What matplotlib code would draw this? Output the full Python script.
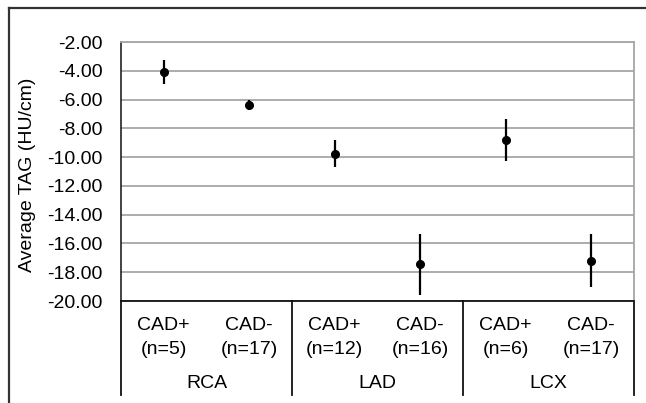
import matplotlib
matplotlib.use("Agg")
import matplotlib.pyplot as plt
from matplotlib.lines import Line2D
from matplotlib.transforms import blended_transform_factory

# Data
groups = ["RCA", "LAD", "LCX"]
subcats = ["CAD+\n(n=5)", "CAD-\n(n=17)", "CAD+\n(n=12)", "CAD-\n(n=16)", "CAD+\n(n=6)", "CAD-\n(n=17)"]
means = [-4.1, -6.4, -9.75, -17.45, -8.8, -17.2]
errors = [0.85, 0.35, 0.95, 2.1, 1.45, 1.85]
yticks = [-2, -4, -6, -8, -10, -12, -14, -16, -18, -20]

plt.rcParams['font.family'] = ['Liberation Sans', 'DejaVu Sans']
FS = 14

W, H = 646, 403
fig = plt.figure(figsize=(W / 100, H / 100), dpi=100)
L, R, T, B = 121, 634, 42, 301
ax = fig.add_axes([L / W, 1 - B / H, (R - L) / W, (B - T) / H])

x = list(range(len(means)))
ax.errorbar(x, means, yerr=errors, fmt='o', color='black', ms=5.5,
            elinewidth=1.6, capsize=0, zorder=3)

ax.set_xlim(-0.5, len(means) - 0.5)
ax.set_ylim(-20, -2)
ax.set_yticks(yticks)
ax.set_yticklabels([f"{v:.2f}" for v in yticks], fontsize=FS)
ax.tick_params(axis='y', length=0, pad=13)
ax.set_xticks([])
ax.yaxis.grid(True, color='#a6a6a6', linewidth=1.3)
ax.set_axisbelow(True)
for s in ['top', 'right']:
    ax.spines[s].set_color('#a6a6a6')
    ax.spines[s].set_linewidth(1.3)
ax.spines['left'].set_color('#222222')
ax.spines['left'].set_linewidth(1.2)
ax.spines['bottom'].set_color('#111111')
ax.spines['bottom'].set_linewidth(1.3)

ax.set_ylabel("Average TAG (HU/cm)", fontsize=FS)
ax.yaxis.set_label_coords(36 / W, 1 - 175 / H, transform=fig.transFigure)

# Category labels
tr = blended_transform_factory(ax.transData, fig.transFigure)
for i, lab in enumerate(subcats):
    top, bot = lab.split("\n")
    ax.text(i, 1 - 325 / H, top, transform=tr, ha='center', va='center', fontsize=FS)
    ax.text(i, 1 - 350 / H, bot, transform=tr, ha='center', va='center', fontsize=FS)
for g, name in enumerate(groups):
    ax.text(2 * g + 0.5, 1 - 383 / H, name, transform=tr, ha='center',
            va='center', fontsize=FS)
# Separators
for b in [-0.5, 1.5, 3.5, 5.5]:
    ax.add_line(Line2D([b, b], [1 - B / H, 1 - 395 / H], transform=tr,
                       color='#111111', lw=1.3, clip_on=False))

# Outer frame (top and left)
fig.add_artist(Line2D([9 / W, 1], [1 - 8 / H, 1 - 8 / H], transform=fig.transFigure,
                      color='#333333', lw=1.6))
fig.add_artist(Line2D([9 / W, 9 / W], [0, 1 - 8 / H], transform=fig.transFigure,
                      color='#333333', lw=1.6))

fig.savefig("out.png", dpi=100)
